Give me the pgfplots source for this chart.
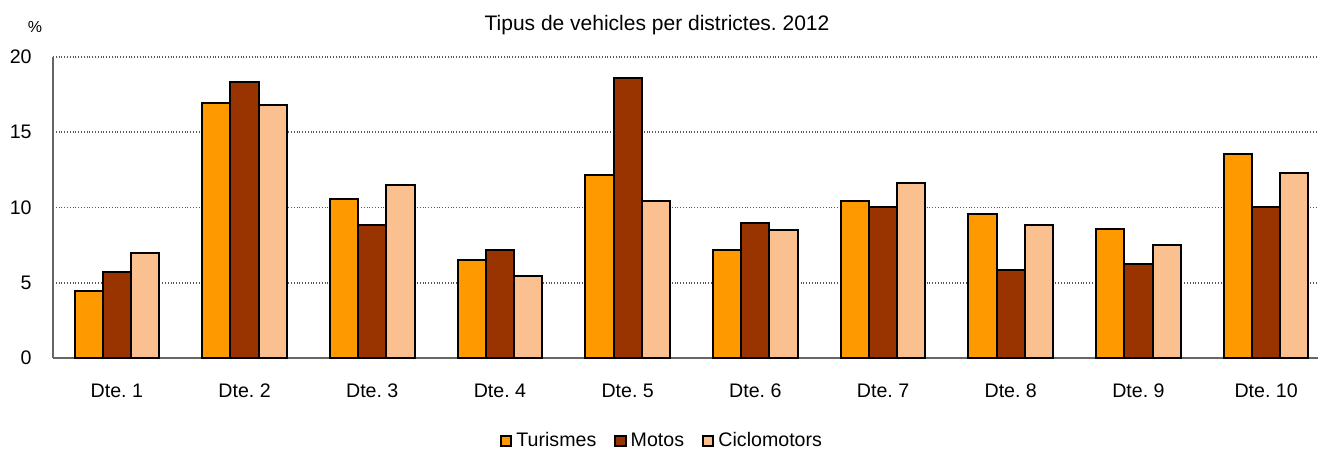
\documentclass[border=0pt]{standalone}
\usepackage{pgfplots}
\pgfplotsset{compat=1.18}
\usepackage{fontspec}
\setmainfont{Liberation Sans}
\frenchspacing
\definecolor{turis}{RGB}{255,153,0}
\definecolor{motos}{RGB}{153,51,0}
\definecolor{ciclo}{RGB}{250,192,144}

\pgfplotstableread{
x tur mot cic
0 4.45 5.71 6.98
1 16.94 18.34 16.81
2 10.56 8.84 11.50
3 6.51 7.18 5.45
4 12.16 18.60 10.43
5 7.18 8.97 8.50
6 10.43 10.03 11.63
7 9.57 5.85 8.84
8 8.57 6.25 7.51
9 13.55 10.03 12.29
}\dades

\begin{document}
\begin{tikzpicture}[font=\fontsize{9.8pt}{11pt}\selectfont]
\useasboundingbox (-26.5pt,-47pt) rectangle (632.5pt,179pt);
\begin{axis}[at={(0,0)}, anchor=south west,
  scale only axis, width=632.5pt, height=150.5pt,
  ybar=0pt, bar width=14.1pt,
  xmin=-0.5, xmax=9.406, ymin=0, ymax=20,
  xtick={0,...,9},
  xticklabels={Dte. 1,Dte. 2,Dte. 3,Dte. 4,Dte. 5,Dte. 6,Dte. 7,Dte. 8,Dte. 9,Dte. 10},
  ytick={0,5,10,15,20},
  /pgf/number format/assume math mode=true,
  major tick length=0pt,
  xticklabel style={anchor=base, inner sep=0pt, yshift=-19.5pt},
  yticklabel style={anchor=east, inner sep=0pt, xshift=-10.5pt},
  axis x line*=bottom, axis y line*=left,
  axis line style={-, draw=gray!80!black, line width=0.8pt},
  ymajorgrids, major grid style={densely dotted, gray!70!black, line width=0.8pt},
  clip=false,
  legend style={draw=none, at={(304.5pt,-41.5pt)}, anchor=center,
    legend columns=3, font=\fontsize{9.8pt}{11pt}\selectfont,
    /tikz/every odd column/.append style={column sep=1pt},
    /tikz/every even column/.append style={column sep=8pt},
    nodes={inner xsep=1pt}},
  legend image code/.code={\draw[#1] (0pt,-2.6pt) rectangle (5.2pt,2.6pt);},
  every axis plot/.append style={draw=black, line width=1pt}]
\addplot[fill=turis] table[x=x, y=tur] {\dades};
\addplot[fill=motos] table[x=x, y=mot] {\dades};
\addplot[fill=ciclo] table[x=x, y=cic] {\dades};
\legend{Turismes, Motos, Ciclomotors}
\end{axis}
\node[anchor=center] at (302pt,166.5pt) {\fontsize{10.5pt}{12pt}\selectfont Tipus de vehicles per districtes. 2012};
\node[anchor=center, font=\fontsize{8pt}{9pt}\selectfont] at (-9pt,165.5pt) {\%};
\end{tikzpicture}
\end{document}
